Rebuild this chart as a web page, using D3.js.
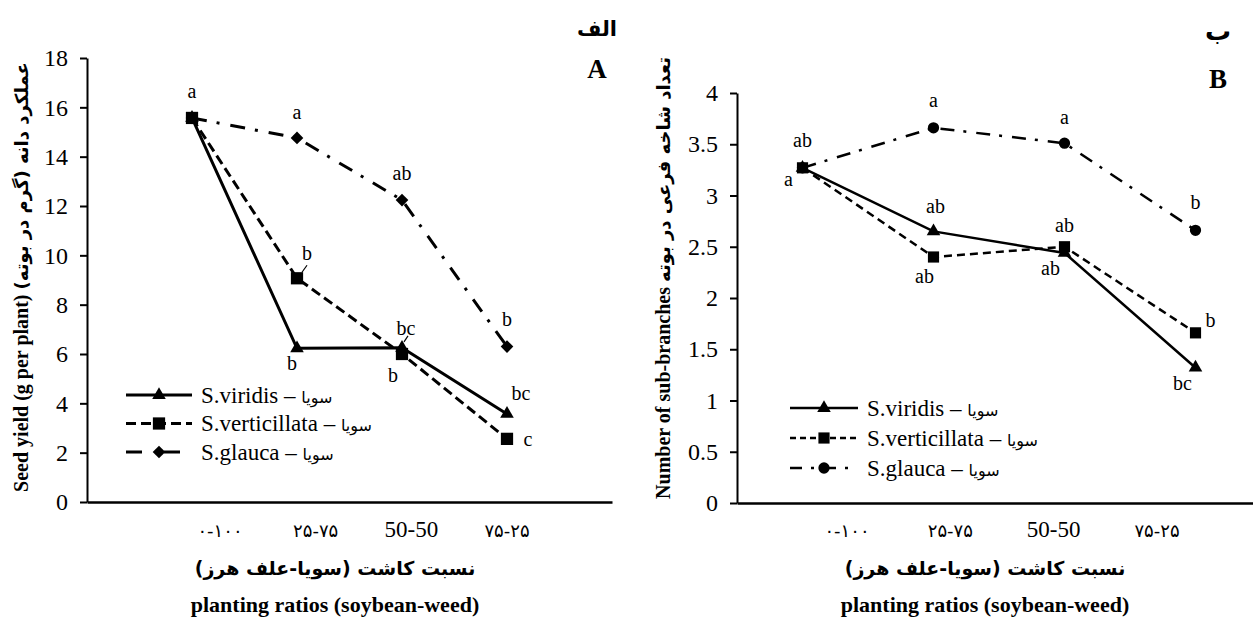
<!DOCTYPE html>
<html>
<head>
<meta charset="utf-8">
<script src="https://cdn.jsdelivr.net/npm/d3@7"></script>
<style>
  body { margin: 0; background: #fff; }
  svg text { font-family: "Liberation Serif", "Times New Roman", Times, serif; fill: #000; }
  svg .fa { font-family: "DejaVu Sans", sans-serif; }
</style>
</head>
<body>
<svg id="chart" width="1253" height="619"></svg>
<script>
// categories (soybean-weed planting ratio)
var ratios = ['0-100', '25-75', '50-50', '75-25'];
var ratioLabels = ['۰-۱۰۰', '۲۵-۷۵', '50-50', '۷۵-۲۵'];
var seriesNames = ['S.viridis  \u2013 ', 'S.verticillata \u2013 ', 'S.glauca \u2013 '];
var cropName = 'سویا';

// panel A: seed yield (g per plant)
var yieldViridis = [15.57, 6.23, 6.25, 3.57];
var yieldVerticillata = [15.57, 9.07, 6.0, 2.56];
var yieldGlauca = [15.57, 14.76, 12.24, 6.3];
var yieldLetters = [
  [null, 'b', 'bc', 'bc'],
  ['a', 'b', 'b', 'c'],
  [null, 'a', 'ab', 'b']
];
var yieldTicks = [0, 2, 4, 6, 8, 10, 12, 14, 16, 18];

// panel B: number of sub-branches per plant
var branchViridis = [3.27, 2.65, 2.44, 1.32];
var branchVerticillata = [3.27, 2.40, 2.50, 1.66];
var branchGlauca = [3.27, 3.66, 3.51, 2.66];
var branchLetters = [
  ['a', 'ab', 'ab', 'bc'],
  ['ab', 'ab', 'ab', 'b'],
  [null, 'a', 'a', 'b']
];
var branchTicks = [0, 0.5, 1, 1.5, 2, 2.5, 3, 3.5, 4];

var svg = d3.select('#chart');

function drawPanel(cfg) {
  var g = svg.append('g');
  var x = d3.scalePoint().domain(ratios).range(cfg.xRange).padding(cfg.xPad);
  var xl = d3.scalePoint().domain(ratios).range(cfg.labelRange);
  var y = d3.scaleLinear().domain(cfg.yDomain).range(cfg.yRange);

  // y axis
  var ya = g.append('g')
    .attr('transform', 'translate(' + cfg.xRange[0] + ',0)')
    .call(d3.axisLeft(y).tickValues(cfg.ticks).tickSize(7).tickSizeOuter(0).tickPadding(cfg.tickPad)
      .tickFormat(function(d){ return String(d); }));
  ya.attr('font-family', null).attr('font-size', null);
  ya.select('.domain').attr('stroke', '#000').attr('stroke-width', 2);
  ya.selectAll('.tick line').attr('stroke', '#000').attr('stroke-width', 2);
  ya.selectAll('.tick text').style('font-size', '24px');

  // x axis line
  var xa = g.append('g')
    .attr('transform', 'translate(0,' + y(0) + ')')
    .call(d3.axisBottom(x).tickValues([]).tickSizeOuter(0));
  xa.select('.domain').attr('stroke', '#000').attr('stroke-width', 2.5);

  // category labels
  g.selectAll('.cat').data(ratios).enter().append('text')
    .attr('x', function(d){ return xl(d); })
    .attr('y', 537)
    .attr('text-anchor', 'middle')
    .style('font-size', function(d, i){ return i === 2 ? '23px' : '18px'; })
    .attr('class', function(d, i){ return i === 2 ? null : 'fa'; })
    .text(function(d, i){ return ratioLabels[i]; });

  var line = d3.line().x(function(d, i){ return x(ratios[i]); }).y(function(d){ return y(d); });

  cfg.order.forEach(function(si) {
    var vals = cfg.series[si];
    g.append('path').datum(vals)
      .attr('d', line)
      .attr('fill', 'none')
      .attr('stroke', '#000')
      .attr('stroke-width', cfg.lineW)
      .attr('stroke-dasharray', cfg.dash[si]);
    g.selectAll('.m' + si).data(vals).enter().append('path')
      .attr('d', d3.symbol().type(cfg.symbols[si]).size(cfg.symSize[si]))
      .attr('transform', function(d, i){
        return 'translate(' + x(ratios[i]) + ',' + y(d) + ')' + (cfg.rot[si] ? ' rotate(45)' : '');
      })
      .attr('fill', '#000');
  });

  // significance letters
  cfg.series.forEach(function(vals, si) {
    vals.forEach(function(v, i) {
      var t = cfg.letters[si][i];
      if (!t) return;
      var off = cfg.letterOff[si][i];
      g.append('text')
        .attr('x', x(ratios[i]) + off[0])
        .attr('y', y(v) + off[1])
        .attr('dy', '0.35em')
        .attr('text-anchor', 'middle')
        .style('font-size', '20px')
        .text(t);
    });
  });

  // small leader lines
  (cfg.leaders || []).forEach(function(l) {
    var px = x(ratios[l[1]]), py = y(cfg.series[l[0]][l[1]]);
    g.append('line')
      .attr('x1', px + l[2]).attr('y1', py + l[3])
      .attr('x2', px + l[4]).attr('y2', py + l[5])
      .attr('stroke', '#000').attr('stroke-width', 1.2);
  });

  // legend
  var lg = g.append('g').attr('transform', 'translate(' + cfg.legend[0] + ',' + cfg.legend[1] + ')');
  [0, 1, 2].forEach(function(si) {
    var row = lg.append('g').attr('transform', 'translate(0,' + si * cfg.legendStep + ')');
    row.append('line').attr('x1', 0).attr('x2', cfg.legendLen).attr('y1', 0).attr('y2', 0)
      .attr('stroke', '#000').attr('stroke-width', cfg.lineW)
      .attr('stroke-dasharray', cfg.legendDash[si]);
    row.append('path')
      .attr('d', d3.symbol().type(cfg.symbols[si]).size(cfg.symSize[si]))
      .attr('transform', 'translate(' + cfg.legendLen / 2 + ',0)' + (cfg.rot[si] ? ' rotate(45)' : ''))
      .attr('fill', '#000');
    var t = row.append('text')
      .attr('x', cfg.legendLen + 9).attr('y', 0).attr('dy', '0.33em')
      .style('font-size', '23px');
    t.append('tspan').text(seriesNames[si]);
    t.append('tspan').attr('class', 'fa').style('font-size', '16px').text(cropName);
  });

  // axis titles
  var yt = g.append('text')
    .attr('transform', 'translate(' + cfg.yTitle[0] + ',' + cfg.yTitle[1] + ') rotate(-90)')
    .attr('dy', '0.35em')
    .attr('text-anchor', 'middle')
    .style('font-size', '20px')
    .attr('font-weight', 'bold');
  yt.append('tspan').text(cfg.yTitleEn + ' ');
  yt.append('tspan').attr('class', 'fa').style('font-size', '18px').text('\u2067' + cfg.yTitleFa + '\u2069');

  g.append('text')
    .attr('x', cfg.xTitleX).attr('y', 575)
    .attr('text-anchor', 'middle')
    .style('font-size', '19px').attr('font-weight', 'bold')
    .attr('class', 'fa')
    .attr('direction', 'rtl')
    .text('نسبت کاشت (سویا-علف هرز)');
  g.append('text')
    .attr('x', cfg.xTitleX).attr('y', 612)
    .attr('text-anchor', 'middle')
    .style('font-size', '22px').attr('font-weight', 'bold')
    .text('planting ratios (soybean-weed)');

  // panel letters
  g.append('text')
    .attr('x', cfg.panelX).attr('y', cfg.panelY[0])
    .attr('text-anchor', 'middle').style('font-size', cfg.panelFaSize).attr('font-weight', 'bold')
    .attr('class', 'fa').attr('direction', 'rtl')
    .text(cfg.panelFa);
  g.append('text')
    .attr('x', cfg.panelX).attr('y', cfg.panelY[1])
    .attr('text-anchor', 'middle').style('font-size', '27px').attr('font-weight', 'bold')
    .text(cfg.panelEn);
}

drawPanel({
  series: [yieldViridis, yieldVerticillata, yieldGlauca],
  letters: yieldLetters,
  letterOff: [
    [[0, 0], [-5, 15], [4, -20], [14, -21]],
    [[0, -27], [10, -25], [-9, 21], [21, 0]],
    [[0, 0], [0, -26], [0, -27], [0, -28]]
  ],
  leaders: [[1, 1, 5, -6, 10, -13], [0, 2, 2, -6, 6, -12]],
  order: [2, 0, 1],
  ticks: yieldTicks,
  yDomain: [0, 18],
  yRange: [502, 58],
  xRange: [87, 612],
  xPad: 1,
  labelRange: [220, 507],
  tickPad: 12,
  lineW: 3,
  dash: [null, '10,5', '15,10,3,11'],
  legendDash: [null, '10,5', '16,22'],
  symbols: [d3.symbolTriangle, d3.symbolSquare, d3.symbolSquare],
  symSize: [80, 150, 80],
  rot: [false, false, true],
  legend: [126, 395],
  legendStep: 28.5,
  legendLen: 66,
  yTitle: [21, 277],
  yTitleEn: 'Seed yield (g per plant)',
  yTitleFa: 'عملکرد دانه (گرم در بوته)',
  xTitleX: 335,
  panelX: 597, panelY: [36, 78], panelFa: 'الف', panelFaSize: '21px', panelEn: 'A'
});

drawPanel({
  series: [branchViridis, branchVerticillata, branchGlauca],
  letters: branchLetters,
  letterOff: [
    [[-14, 11], [2, -25], [-14, 15], [-13, 15]],
    [[0, -28], [-9, 19], [0, -22], [15, -13]],
    [[0, 0], [0, -28], [0, -26], [0, -28]]
  ],
  leaders: [],
  order: [0, 2, 1],
  ticks: branchTicks,
  yDomain: [0, 4],
  yRange: [503, 93],
  xRange: [737, 1261],
  xPad: 0.5,
  labelRange: [847, 1157],
  tickPad: 12,
  lineW: 2.5,
  dash: [null, '8,5', '14,9,3,10'],
  legendDash: [null, '6,4', '12,9,3,10'],
  symbols: [d3.symbolTriangle, d3.symbolSquare, d3.symbolCircle],
  symSize: [80, 125, 100],
  rot: [false, false, false],
  legend: [790, 408],
  legendStep: 30,
  legendLen: 68,
  yTitle: [663, 278],
  yTitleEn: 'Number of sub-branches',
  yTitleFa: 'تعداد شاخه فرعی در بوته',
  xTitleX: 985,
  panelX: 1218, panelY: [40, 88], panelFa: 'ب', panelFaSize: '26px', panelEn: 'B'
});
</script>
</body>
</html>
